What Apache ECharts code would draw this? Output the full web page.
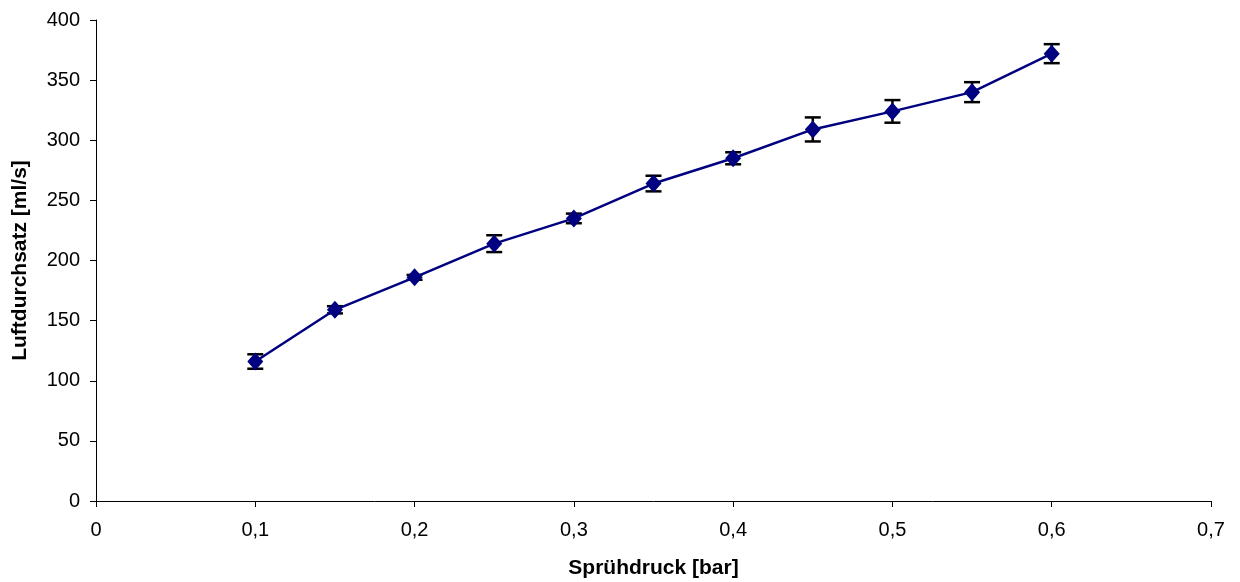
<!DOCTYPE html>
<html>
<head>
<meta charset="utf-8">
<script src="https://cdn.jsdelivr.net/npm/echarts@6/dist/echarts.min.js"></script>
<style>
html,body{margin:0;padding:0;background:#fff;}
#chart{width:1240px;height:582px;}
</style>
</head>
<body>
<div id="chart"></div>
<script>
const pressure = [0.1, 0.15, 0.2, 0.25, 0.3, 0.35, 0.4, 0.45, 0.5, 0.55, 0.6];
const airflow = [116, 159, 186, 214, 235, 264, 285, 309, 324, 340, 372];
const errors = [6, 3, 2, 7, 4, 6.5, 5, 10, 9.4, 8.3, 7.9];
const xTicks = [0, 0.1, 0.2, 0.3, 0.4, 0.5, 0.6, 0.7];
const yTicks = [0, 50, 100, 150, 200, 250, 300, 350, 400];

const lineData = pressure.map((p, i) => [p, airflow[i]]);
const errData = pressure.map((p, i) => [p, airflow[i] - errors[i], airflow[i] + errors[i]]);

const chart = echarts.init(document.getElementById('chart'));
const font = 'Liberation Sans, Arial, sans-serif';
chart.setOption({
  animation: false,
  grid: {left: 96, right: 29, top: 20, bottom: 81, outerBoundsMode: 'none', containLabel: false},
  xAxis: {
    type: 'value', min: xTicks[0], max: xTicks[xTicks.length - 1], interval: 0.1,
    name: 'Sprühdruck [bar]', nameLocation: 'middle', nameGap: 57,
    nameTextStyle: {fontFamily: font, fontSize: 21, fontWeight: 'bold', color: '#000'},
    axisLine: {onZero: false, lineStyle: {color: '#000', width: 1}},
    axisTick: {show: true, length: 6, lineStyle: {color: '#000'}},
    axisLabel: {fontFamily: font, fontSize: 20, color: '#000', margin: 19,
      formatter: v => (Math.round(v * 10) / 10).toString().replace('.', ',')},
    splitLine: {show: false}
  },
  yAxis: {
    type: 'value', min: yTicks[0], max: yTicks[yTicks.length - 1], interval: 50,
    name: 'Luftdurchsatz [ml/s]', nameLocation: 'middle', nameGap: 65,
    nameTextStyle: {fontFamily: font, fontSize: 21, fontWeight: 'bold', color: '#000'},
    axisLine: {show: true, onZero: false, lineStyle: {color: '#000', width: 1}},
    axisTick: {show: true, length: 6, lineStyle: {color: '#000'}},
    axisLabel: {fontFamily: font, fontSize: 20, color: '#000', margin: 16},
    splitLine: {show: false}
  },
  series: [
    {
      type: 'custom',
      z: 1,
      data: errData,
      renderItem: function (params, api) {
        const x = api.value(0);
        const lo = api.coord([x, api.value(1)]);
        const hi = api.coord([x, api.value(2)]);
        const hw = 8;
        const style = {stroke: '#000', lineWidth: 2.5};
        return {
          type: 'group',
          children: [
            {type: 'line', shape: {x1: lo[0], y1: lo[1], x2: hi[0], y2: hi[1]}, style: style},
            {type: 'line', shape: {x1: lo[0] - hw, y1: lo[1], x2: lo[0] + hw, y2: lo[1]}, style: style},
            {type: 'line', shape: {x1: hi[0] - hw, y1: hi[1], x2: hi[0] + hw, y2: hi[1]}, style: style}
          ]
        };
      }
    },
    {
      type: 'line',
      z: 2,
      data: lineData,
      symbol: 'diamond',
      symbolSize: [16, 18],
      lineStyle: {color: '#000080', width: 2.5},
      itemStyle: {color: '#000080'}
    }
  ]
});
</script>
</body>
</html>
